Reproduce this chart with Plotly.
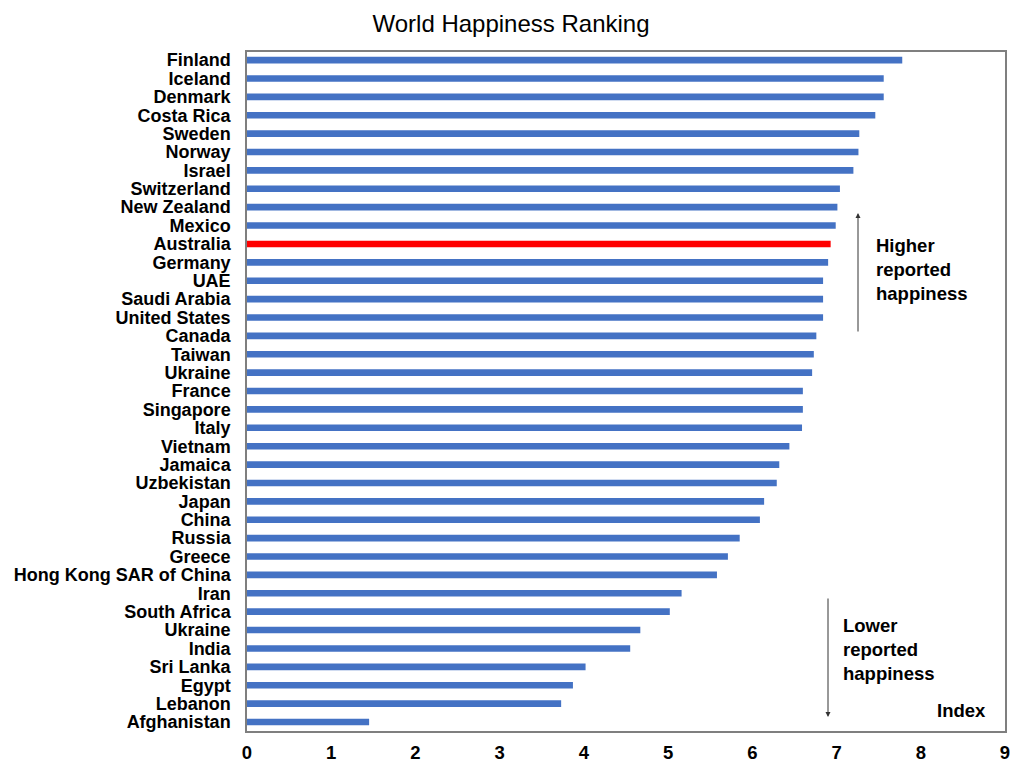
import plotly.graph_objects as go

countries = ["Finland", "Iceland", "Denmark", "Costa Rica", "Sweden", "Norway", "Israel",
             "Switzerland", "New Zealand", "Mexico", "Australia", "Germany", "UAE",
             "Saudi Arabia", "United States", "Canada", "Taiwan", "Ukraine", "France",
             "Singapore", "Italy", "Vietnam", "Jamaica", "Uzbekistan", "Japan", "China",
             "Russia", "Greece", "Hong Kong SAR of China", "Iran", "South Africa", "Ukraine",
             "India", "Sri Lanka", "Egypt", "Lebanon", "Afghanistan"]
scores = [7.78, 7.56, 7.56, 7.46, 7.27, 7.26, 7.20,
          7.04, 7.01, 6.99, 6.93, 6.90, 6.84,
          6.84, 6.84, 6.76, 6.73, 6.71, 6.60,
          6.60, 6.59, 6.44, 6.32, 6.29, 6.14, 6.09,
          5.85, 5.71, 5.58, 5.16, 5.02, 4.67,
          4.55, 4.02, 3.87, 3.73, 1.45]
highlight = "Australia"
x_ticks = [0, 1, 2, 3, 4, 5, 6, 7, 8, 9]

positions = list(range(len(countries)))
colors = ["#FF0000" if c == highlight else "#4472C4" for c in countries]

FONT = "Liberation Sans, Arial, sans-serif"

fig = go.Figure()
fig.add_trace(go.Bar(
    x=scores, y=positions, orientation="h",
    marker=dict(color=colors, line=dict(width=0)),
    width=0.36, hoverinfo="skip",
))

fig.update_layout(
    width=1022, height=777,
    margin=dict(l=247, r=17, t=52, b=46, autoexpand=False),
    paper_bgcolor="white", plot_bgcolor="white",
    showlegend=False,
    title=dict(text="World Happiness Ranking", x=0.5, xanchor="center",
               y=0.97, yanchor="middle", yref="container", automargin=False,
               font=dict(family=FONT, size=24, color="#000000")),
    xaxis=dict(range=[0, 9], tickvals=x_ticks, showgrid=False, zeroline=False,
               showline=True, mirror=True, linecolor="#7f7f7f", linewidth=1.5,
               ticks="", ticklabelstandoff=4, automargin=False,
               tickfont=dict(family=FONT, size=18.5, color="#000000", weight="bold")),
    yaxis=dict(range=[len(countries) - 1 + 0.49, -0.44], tickvals=positions, ticktext=countries,
               showgrid=False, zeroline=False,
               showline=True, mirror=True, linecolor="#7f7f7f", linewidth=1.5,
               ticks="", ticklabelstandoff=11, automargin=False,
               tickfont=dict(family=FONT, size=18, color="#000000", weight="bold")),
)

ann_font = dict(family=FONT, size=18.5, color="#000000", weight="bold")

def px(xp):
    return (xp - 247) / (1005 - 247)

def py(yp):
    return (731 - yp) / (731 - 52)

DX, DY = "x domain", "y domain"
# Up arrow
fig.add_annotation(xref=DX, yref=DY, x=px(858), y=py(213), ax=px(858), ay=py(333),
                   axref=DX, ayref=DY, showarrow=True, arrowhead=2,
                   arrowsize=1, arrowwidth=1, arrowcolor="#333333", text="")
fig.add_annotation(xref=DX, yref=DY, x=px(874), y=py(233), xanchor="left", yanchor="top",
                   text="Higher<br>reported<br>happiness", showarrow=False, align="left", font=ann_font)
# Down arrow
fig.add_annotation(xref=DX, yref=DY, x=px(828), y=py(717), ax=px(828), ay=py(597),
                   axref=DX, ayref=DY, showarrow=True, arrowhead=2,
                   arrowsize=1, arrowwidth=1, arrowcolor="#333333", text="")
fig.add_annotation(xref=DX, yref=DY, x=px(841), y=py(613), xanchor="left", yanchor="top",
                   text="Lower<br>reported<br>happiness", showarrow=False, align="left", font=ann_font)
fig.add_annotation(xref=DX, yref=DY, x=px(988), y=py(710), xanchor="right", yanchor="middle",
                   text="Index", showarrow=False, font=ann_font)

fig.write_html("out.html", config={"displayModeBar": False},
               post_script="document.body.style.margin='0px';document.body.style.overflow='hidden';")
